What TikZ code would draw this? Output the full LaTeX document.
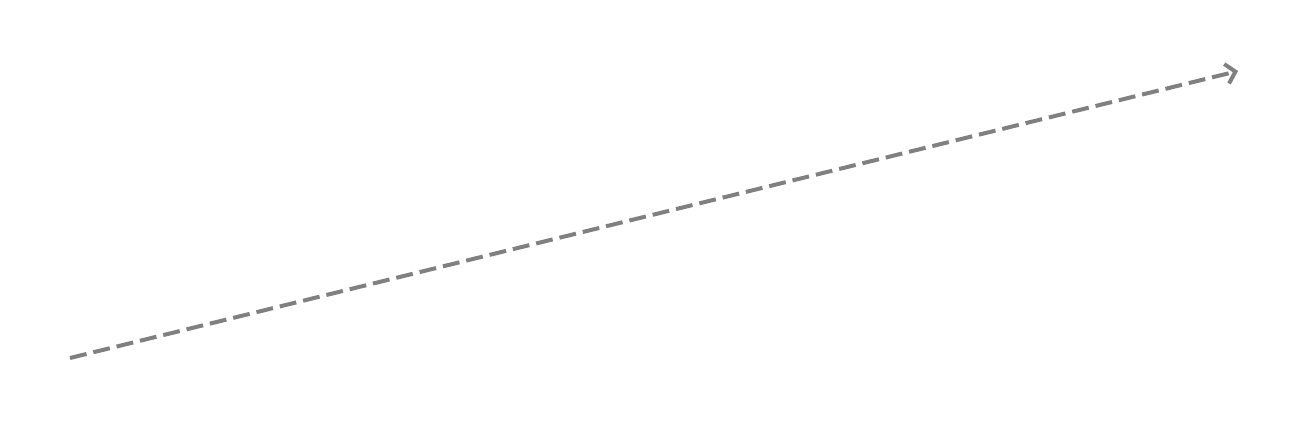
\documentclass[tikz,border=0pt]{standalone}
\usepackage{tikz}
\usetikzlibrary{arrows.meta}

\begin{document}
\begin{tikzpicture}[
        x=1pt, y=-1pt,
        flow/.style={draw=gray, line width=4pt, dash pattern=on 17pt off 7pt},
        >={Straight Barb[length=9pt, width=20pt]}
    ]
        \useasboundingbox (0, 0) rectangle (1308, 431);
        \coordinate (src) at (70, 358);
        \coordinate (dst) at (1238, 71);

        \draw[flow, ->] (src) -- (dst);
    \end{tikzpicture}
\end{document}
